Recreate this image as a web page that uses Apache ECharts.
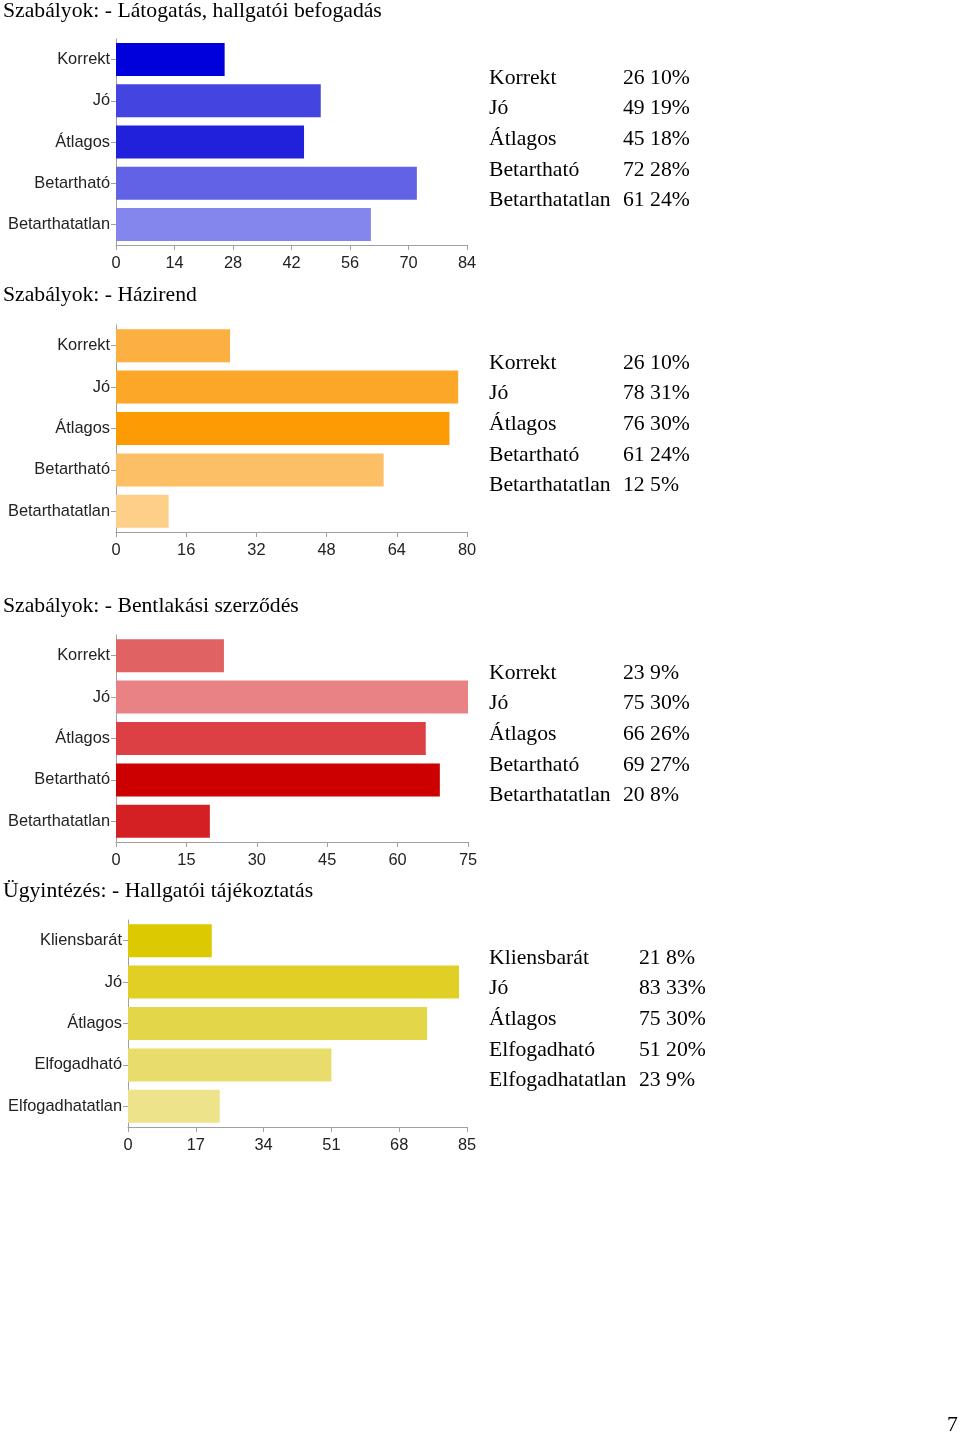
<!DOCTYPE html>
<html><head><meta charset="utf-8">
<style>html,body{margin:0;padding:0;background:#fff}#c{width:960px;height:1436px}</style>
<script src="https://cdn.jsdelivr.net/npm/echarts@6/dist/echarts.min.js"></script>
</head><body><div id="c"></div>
<script>
// ---- data ----
const titles = [
  "Szabályok: - Látogatás, hallgatói befogadás",
  "Szabályok: - Házirend",
  "Szabályok: - Bentlakási szerződés",
  "Ügyintézés: - Hallgatói tájékoztatás"
];
const cats1 = ["Korrekt","Jó","Átlagos","Betartható","Betarthatatlan"];
const cats2 = ["Korrekt","Jó","Átlagos","Betartható","Betarthatatlan"];
const cats3 = ["Korrekt","Jó","Átlagos","Betartható","Betarthatatlan"];
const cats4 = ["Kliensbarát","Jó","Átlagos","Elfogadható","Elfogadhatatlan"];
const vals1 = [26,49,45,72,61];
const vals2 = [26,78,76,61,12];
const vals3 = [23,75,66,69,20];
const vals4 = [21,83,75,51,23];
const pcts1 = ["10%","19%","18%","28%","24%"];
const pcts2 = ["10%","31%","30%","24%","5%"];
const pcts3 = ["9%","30%","26%","27%","8%"];
const pcts4 = ["8%","33%","30%","20%","9%"];
const axisMax = [84,80,75,85];
const axisStep = [14,16,15,17];
const pageNum = "7";

// ---- styles ----
const colors = [
  ["#0000dd","#4444e0","#2121dc","#6262e6","#8585ee"],
  ["#fcb041","#fca728","#fc9b03","#fdbf66","#fecf88"],
  ["#e06263","#e88284","#dc4044","#cc0000","#d42022"],
  ["#dcc901","#e0cf24","#e3d649","#e8dd6a","#ece38b"]
];
const cats = [cats1,cats2,cats3,cats4];
const vals = [vals1,vals2,vals3,vals4];
const pcts = [pcts1,pcts2,pcts3,pcts4];
const grids = [
  {left:116, top:39, width:351, height:206},
  {left:116, top:325, width:351, height:207},
  {left:116, top:635, width:352, height:207},
  {left:128, top:920, width:339, height:207}
];
const titleY = [11, 295, 606, 891];
const tableY = [77, 362, 672, 957];
const tableNumX = [623,623,623,639];

const chart = echarts.init(document.getElementById('c'), null, {renderer:'canvas'});
const xAxis = [], yAxis = [], series = [], graphic = [];
const sans = "'Liberation Sans', Arial, sans-serif";
const serif = "'Liberation Serif', 'Times New Roman', serif";
const tf = "21.7px " + serif;
for (let i=0;i<4;i++){
  xAxis.push({gridIndex:i, type:'value', min:0, max:axisMax[i], interval:axisStep[i],
    splitLine:{show:false},
    axisLine:{show:true, lineStyle:{color:'#a0a0a0', width:1}},
    axisTick:{show:true, length:5, lineStyle:{color:'#a0a0a0'}},
    axisLabel:{color:'#222', fontSize:16.4, fontFamily:sans, margin:10}});
  yAxis.push({gridIndex:i, type:'category', data:cats[i], inverse:true,
    axisLine:{show:true, lineStyle:{color:'#a0a0a0', width:1}},
    axisTick:{show:true, length:5, alignWithLabel:true, lineStyle:{color:'#a0a0a0'}},
    axisLabel:{color:'#222', fontSize:16.4, fontFamily:sans, margin:6, padding:[4,0,0,0]}});
  series.push({type:'bar', xAxisIndex:i, yAxisIndex:i, barWidth:33,
    data: vals[i].map((v,j)=>({value:v, itemStyle:{color:colors[i][j]}})),
    silent:true, animation:false});
  graphic.push({type:'text', left:3, top:titleY[i]-11,
    style:{text:titles[i], font:tf, fill:'#000'}});
  for (let j=0;j<5;j++){
    graphic.push({type:'text', left:489, top:tableY[i]+j*30.7-10,
      style:{text:cats[i][j], font:tf, fill:'#000'}});
    graphic.push({type:'text', left:tableNumX[i], top:tableY[i]+j*30.7-10,
      style:{text:vals[i][j]+" "+pcts[i][j], font:tf, fill:'#000'}});
  }
}
graphic.push({type:'text', left:947, top:1414, style:{text:pageNum, font:tf, fill:'#000'}});
chart.setOption({animation:false, grid:grids, xAxis, yAxis, series, graphic});
</script></body></html>
